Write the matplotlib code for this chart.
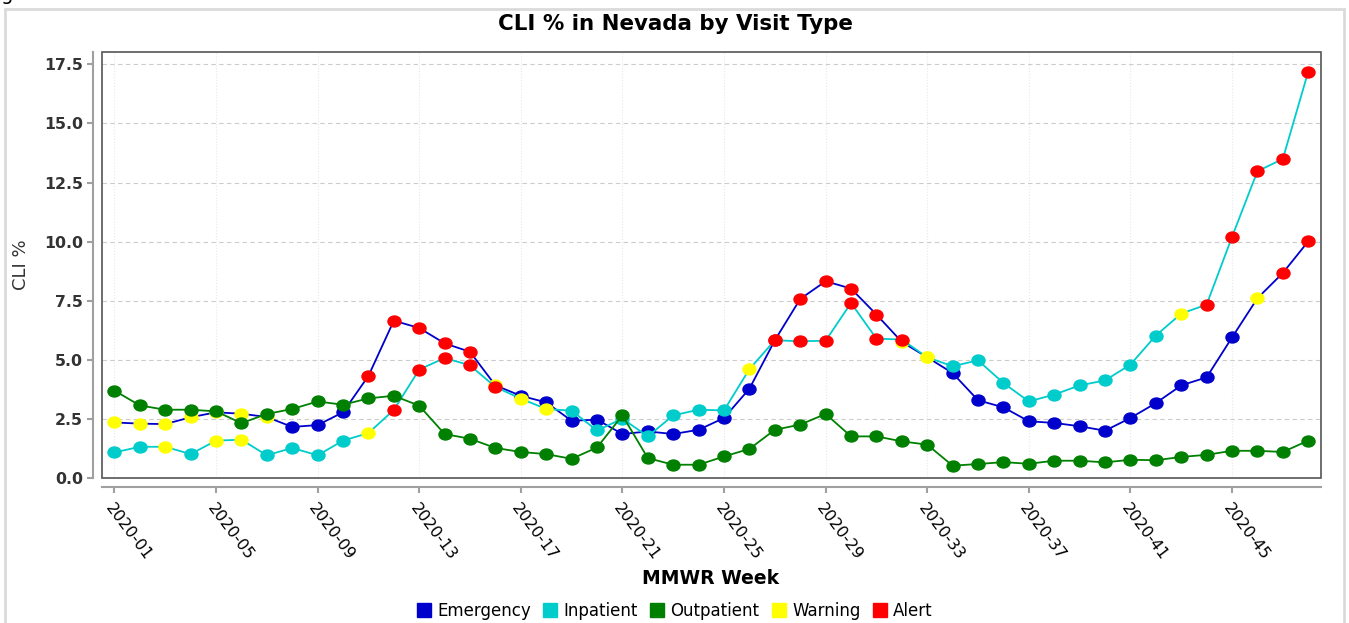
import numpy as np
import matplotlib
matplotlib.use('Agg')
import matplotlib.pyplot as plt
from matplotlib.path import Path
from matplotlib.transforms import Affine2D
from matplotlib.patches import Rectangle
from matplotlib.lines import Line2D

# weeks 2020-01 .. 2020-48
weeks = list(range(1, 49))
week_labels = ['2020-%02d' % w for w in weeks]
tick_weeks = [1, 5, 9, 13, 17, 21, 25, 29, 33, 37, 41, 45]

emergency = [2.34, 2.29, 2.27, 2.56, 2.77, 2.71, 2.57, 2.15, 2.23, 2.77,
             4.31, 6.65, 6.34, 5.69, 5.33, 3.91, 3.47, 3.19, 2.41, 2.46,
             1.85, 1.96, 1.85, 2.03, 2.53, 3.77, 5.82, 7.57, 8.32, 8.01,
             6.91, 5.75, 5.10, 4.43, 3.28, 2.98, 2.39, 2.32, 2.18, 1.99,
             2.53, 3.16, 3.91, 4.25, 5.94, 7.60, 8.67, 10.01]
inpatient = [1.07, 1.31, 1.31, 1.00, 1.57, 1.61, 0.95, 1.26, 0.95, 1.57,
             1.89, 2.87, 4.58, 5.07, 4.76, 3.84, 3.35, 2.91, 2.84, 2.00,
             2.50, 1.75, 2.64, 2.88, 2.85, 4.60, 5.82, 5.78, 5.80, 7.40,
             5.89, 5.85, 5.10, 4.72, 4.97, 4.01, 3.23, 3.52, 3.91, 4.12,
             4.79, 6.02, 6.95, 7.33, 10.20, 12.98, 13.50, 17.20]
outpatient = [3.69, 3.06, 2.88, 2.88, 2.81, 2.31, 2.70, 2.91, 3.23, 3.09,
              3.36, 3.47, 3.05, 1.85, 1.65, 1.26, 1.09, 1.00, 0.80, 1.28,
              2.64, 0.83, 0.55, 0.55, 0.90, 1.22, 2.03, 2.25, 2.70, 1.75,
              1.75, 1.54, 1.40, 0.51, 0.58, 0.66, 0.59, 0.72, 0.72, 0.65,
              0.76, 0.74, 0.88, 0.97, 1.14, 1.14, 1.09, 1.57]

# N = normal, W = warning, A = alert
emergency_status = "WWWWWWW" + "NNN" + "AAAAA" + "W" + "NNNNNNNNNN" + "AAAAA" + "WW" + "NNNNNNNNNNNN" + "W" + "AA"
inpatient_status = "NNWNWW" + "NNNN" + "W" + "AAAAA" + "WW" + "NNNNNNN" + "W" + "AAAAAA" + "W" + "NNNNNNNNN" + "W" + "AAAAA"
outpatient_status = "N" * 48

series_names = ['Emergency', 'Inpatient', 'Outpatient']
series_colors = ['#0000cc', '#00cccc', '#008000']
warn_color = '#ffff00'
alert_color = '#ff0000'

fig = plt.figure(figsize=(13.49, 6.23), dpi=100)
ax = fig.add_axes([0.0754, 0.2332, 0.9038, 0.6838])

# slightly wide ellipse marker (the original is stretched horizontally)
ellipse = Path.unit_circle().transformed(Affine2D().scale(1.19, 1.0))

series = [emergency, inpatient, outpatient]
statuses = [emergency_status, inpatient_status, outpatient_status]
z = 3
for vals, stat, col in zip(series, statuses, series_colors):
    ax.plot(weeks, vals, color=col, lw=1.3, zorder=z)
    cols = [col if s == 'N' else (warn_color if s == 'W' else alert_color) for s in stat]
    for w, v, c in zip(weeks, vals, cols):
        ax.plot(w, v, marker=ellipse, markersize=9.4, color=c, mec=c, ls='none', zorder=z + 0.5)
    z += 1

ax.set_xlim(0.5, 48.5)
ax.set_ylim(0, 18.04)

ax.grid(axis='y', color='#cccccc', ls=(0, (4, 3)), lw=0.8)
ax.grid(axis='x', color='#e8e8e8', ls=':', lw=0.8)
ax.set_axisbelow(True)

for s in ['top', 'right']:
    ax.spines[s].set_visible(False)
for s in ['left', 'bottom']:
    ax.spines[s].set_position(('outward', 6.5))
    ax.spines[s].set_color('#a0a0a0')
    ax.spines[s].set_linewidth(1.5)
ax.tick_params(axis='both', length=4, width=1.5, color='#a0a0a0')
ax.tick_params(axis='y', pad=3)
ax.tick_params(axis='x', pad=6)

yt = np.arange(0, 17.6, 2.5)
ax.set_yticks(yt)
ax.set_yticklabels(['%.1f' % t for t in yt], fontsize=11.3, fontweight='bold',
                   color='#333333')
ax.set_xticks(tick_weeks)
ax.set_xticklabels([week_labels[w - 1] for w in tick_weeks], fontsize=11.5)
for lab in ax.get_xticklabels():
    lab.set_rotation(-53)
    lab.set_rotation_mode('anchor')
    lab.set_ha('left')
    lab.set_va('top')

# inner frame around the data area
ax.add_patch(Rectangle((0, 0), 1, 1, transform=ax.transAxes, fill=False,
                       edgecolor='#555555', lw=1.2, zorder=10, clip_on=False))

fig.text(0.501, 0.9615, 'CLI % in Nevada by Visit Type', ha='center', va='center',
         fontsize=15.4, fontweight='bold')
fig.text(0.0152, 0.5746, 'CLI %', rotation=90, ha='center', va='center',
         fontsize=13, color='#333333')
fig.text(0.527, 0.0722, 'MMWR Week', ha='center', va='center', fontsize=13.5,
         fontweight='bold')
fig.text(0.001, 1.0, 'g', ha='left', va='baseline', fontsize=14)

# outer light border
fig.add_artist(Rectangle((5 / 1349, -0.05), 1339 / 1349, 0.05 + 614 / 623,
                         transform=fig.transFigure, fill=False, edgecolor='#dadada', lw=2))

handles = [Line2D([], [], marker='s', ls='none', markersize=10, color=c)
           for c in series_colors + [warn_color, alert_color]]
fig.legend(handles, series_names + ['Warning', 'Alert'], loc='center',
           bbox_to_anchor=(0.5, 0.0193), ncol=5, frameon=False, fontsize=12,
           handlelength=0.9, handletextpad=0.35, columnspacing=0.7)

fig.savefig('out.png', dpi=100)
